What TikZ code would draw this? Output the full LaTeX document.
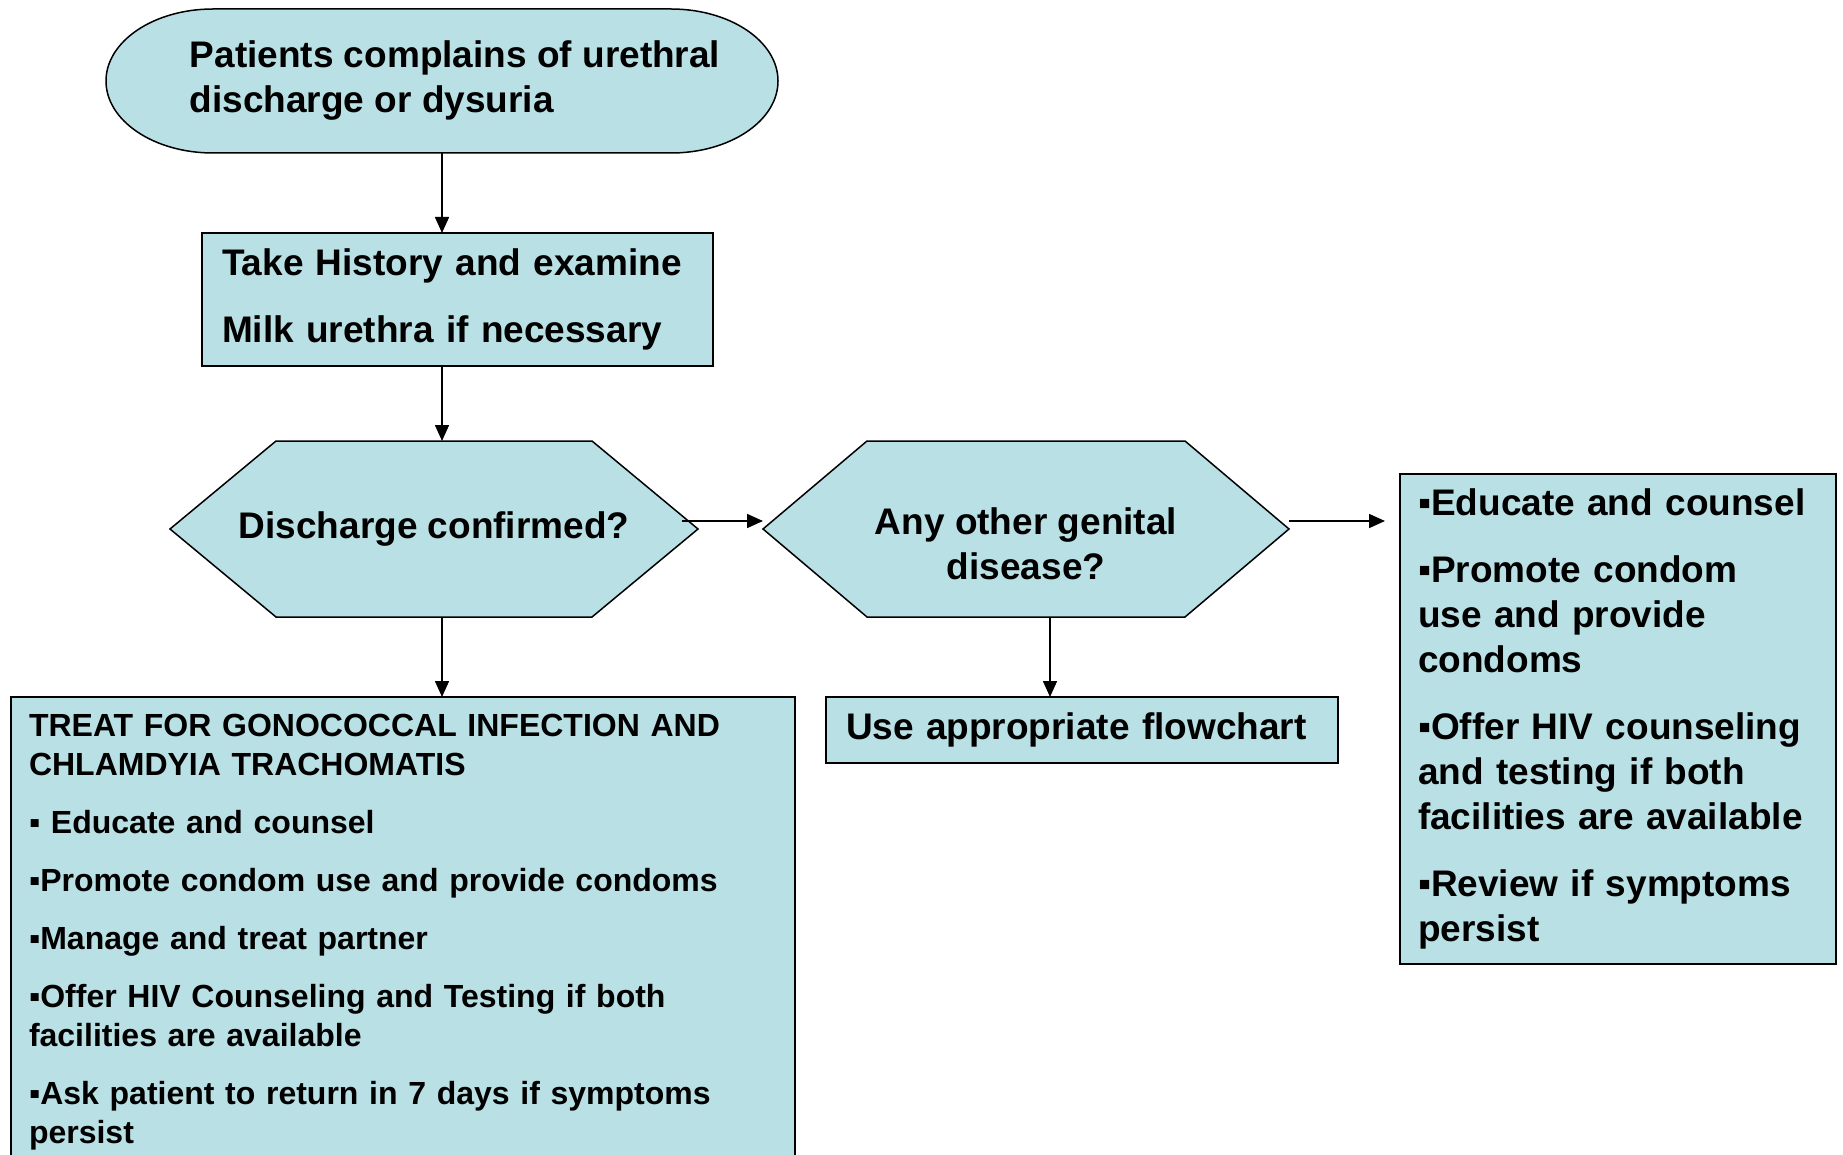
\documentclass[tikz,border=0pt]{standalone}
\usepackage{fontspec}
\setmainfont{Liberation Sans}
\usepackage{xcolor}
\usetikzlibrary{arrows.meta,backgrounds}
\definecolor{flowblue}{RGB}{185,224,228}

\begin{document}
\begin{tikzpicture}[
  x=1pt, y=-1pt, >={Triangle[length=16pt,width=14pt]},
  every node/.style={font=\bfseries\fontsize{37}{45}\selectfont, outer sep=0pt},
  outline/.style={draw=black, line width=1.5pt, fill=flowblue},
  process/.style={outline, rectangle, inner xsep=20pt, inner ysep=0pt, align=left},
  decision/.style={rectangle, inner sep=0pt, align=center, minimum height=176pt},
  terminal/.style={rectangle, inner sep=0pt, align=left,
    minimum width=672pt, minimum height=144pt},
  link/.style={->, line width=1.6pt}
]
\useasboundingbox (0,0) rectangle (1843,1155);

\node[terminal] (start) at (455,81) {Patients complains of urethral\\discharge or dysuria};
\node[process, minimum width=511pt, minimum height=133pt, text width=471pt] (hist) at (457.5,299.5)
  {Take History and examine\\[22pt]Milk urethra if necessary};
\node[decision, minimum width=528pt] (dc) at (434,529) {Discharge confirmed?};
\node[decision, minimum width=526pt] (aog) at (1026,529) {\mbox{}\\[12pt]Any other genital\\disease?};
\node[process, minimum width=512pt, minimum height=66pt, text width=472pt] (flow) at (1082,730)
  {Use appropriate flowchart};
\node[process, minimum width=432pt, minimum height=490pt, text width=400pt, inner xsep=18pt] (adv) at (1618,719)
  {▪Educate and counsel\\[22pt]
   ▪Promote condom\\use and provide\\condoms\\[22pt]
   ▪Offer HIV counseling\\and testing if both\\facilities are available\\[22pt]
   ▪Review if symptoms\\persist};
\node[process, anchor=north west, text width=748pt, inner xsep=18pt, inner ysep=17pt,
  font=\bfseries\fontsize{32}{39}\selectfont] (treat) at (11,697)
  {TREAT FOR GONOCOCCAL INFECTION AND\\CHLAMDYIA TRACHOMATIS\\[19pt]
   ▪ Educate and counsel\\[19pt]
   ▪Promote condom use and provide condoms\\[19pt]
   ▪Manage and treat partner\\[19pt]
   ▪Offer HIV Counseling and Testing if both\\facilities are available\\[19pt]
   ▪Ask patient to return in 7 days if symptoms\\persist\par\vspace*{60pt}};

% outlines of the terminal and the decisions
\begin{scope}[on background layer]
  \draw[outline] ([xshift=94pt]start.north west) -- ([xshift=-120pt]start.north east)
    arc[start angle=90, end angle=-90, x radius=107pt, y radius=72pt]
    -- ([xshift=94pt]start.south west)
    arc[start angle=270, end angle=90, x radius=107pt, y radius=72pt] -- cycle;
  \foreach \h/\d in {dc/106, aog/104}
    \draw[outline] (\h.west) -- ([xshift=\d pt]\h.north west) -- ([xshift=-\d pt]\h.north east)
      -- (\h.east) -- ([xshift=-\d pt]\h.south east) -- ([xshift=\d pt]\h.south west) -- cycle;
\end{scope}

\coordinate (spine) at (442,0);
\coordinate (drop) at (1050,0);
\draw[link] (start.south -| spine) -- (hist.north -| spine);
\draw[link] (hist.south -| spine) -- (dc.north -| spine);
\draw[link] (dc.south -| spine) -- (treat.north -| spine);
\draw[link] ([xshift=-16pt,yshift=8pt]dc.east) -- ([yshift=8pt]aog.west);
\draw[link, shorten >=15pt] ([yshift=8pt]aog.east) -- ([yshift=8pt]aog.east -| adv.west);
\draw[link] (aog.south -| drop) -- (flow.north -| drop);
\end{tikzpicture}
\end{document}
